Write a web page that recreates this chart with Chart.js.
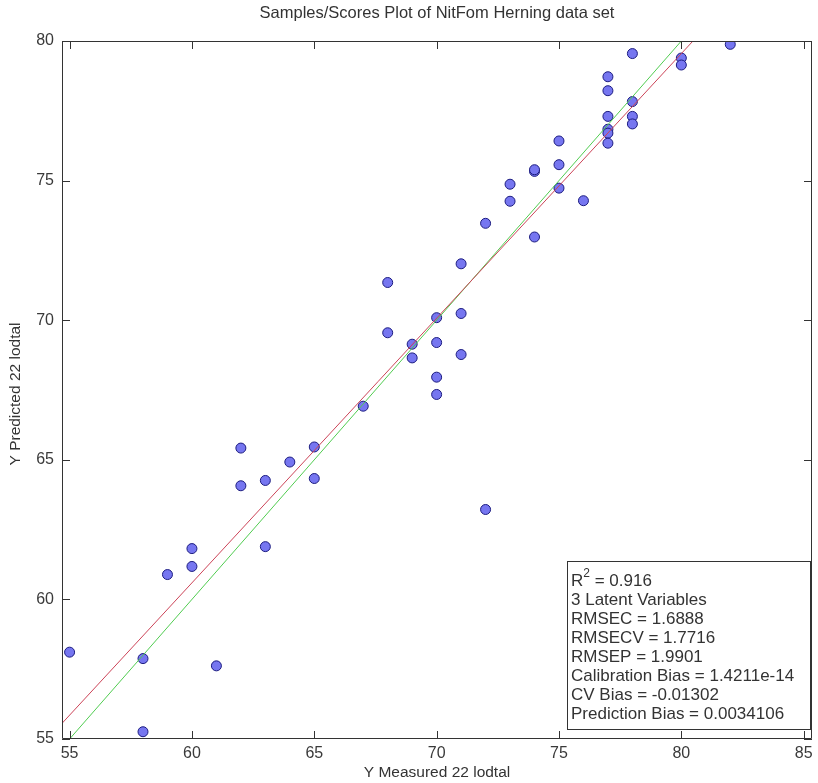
<!DOCTYPE html>
<html>
<head>
<meta charset="utf-8">
<script src="https://cdn.jsdelivr.net/npm/chart.js@4.4.1/dist/chart.umd.min.js"></script>
<style>
html,body{margin:0;padding:0;background:#fff;}
#wrap{width:818px;height:783px;position:relative;}
</style>
</head>
<body>
<div id="wrap"><canvas id="c" width="818" height="783"></canvas></div>
<script>
// ---- data ----
const measuredX = [55,58,58,59,60,60,61,62,62,63,63,64,65,65,67,68,68,69,69,70,70,70,70,71,71,71,72,72,73,73,74,74,74,75,75,75,76,77,77,77,77,77,77,78,78,78,78,80,80,82];
const predictedY = [58.11,57.88,55.26,60.89,61.18,61.82,57.62,65.42,64.07,64.26,61.89,64.92,65.46,64.33,66.92,71.35,69.55,69.14,68.65,70.09,69.20,67.96,67.34,72.02,70.24,68.77,73.47,63.22,74.87,74.26,75.33,75.39,72.98,76.42,75.57,74.73,74.28,78.72,78.22,77.30,76.84,76.70,76.34,79.55,77.83,77.30,77.03,79.39,79.14,79.88];
const fitLineX = [54.69, 85.34];
const fitLineY = [55.56, 84.61];
const targetLineX = [54.69, 85.34];
const targetLineY = [54.69, 85.34];
const xTicks = [55,60,65,70,75,80,85];
const yTicks = [55,60,65,70,75,80];
const titleText = 'Samples/Scores Plot of NitFom Herning data set';
const xLabel = 'Y Measured 22 lodtal';
const yLabel = 'Y Predicted 22 lodtal';
const statsLines = ['R2 = 0.916','3 Latent Variables','RMSEC = 1.6888','RMSECV = 1.7716','RMSEP = 1.9901','Calibration Bias = 1.4211e-14','CV Bias = -0.01302','Prediction Bias = 0.0034106'];

const FONT = '"Liberation Sans", Arial, sans-serif';
const TXT = '#333333';

const points = measuredX.map((x,i)=>({x:x,y:predictedY[i]}));
const fitPts = fitLineX.map((x,i)=>({x:x,y:fitLineY[i]}));
const tgtPts = targetLineX.map((x,i)=>({x:x,y:targetLineY[i]}));

const framePlugin = {
  id:'frame',
  afterDatasetsDraw(chart){
    const ctx = chart.ctx, a = chart.chartArea;
    const xs = chart.scales.x, ys = chart.scales.y;
    ctx.save();
    ctx.strokeStyle = '#333';
    ctx.lineWidth = 1;
    ctx.beginPath();
    ctx.rect(Math.round(a.left)+0.5, Math.round(a.top)+0.5, Math.round(a.right-a.left)-1, Math.round(a.bottom-a.top)-1);
    ctx.stroke();
    const TL = 8;
    ctx.beginPath();
    xTicks.forEach(v=>{
      const p = Math.round(xs.getPixelForValue(v))+0.5;
      ctx.moveTo(p,a.bottom); ctx.lineTo(p,a.bottom-TL);
      ctx.moveTo(p,a.top); ctx.lineTo(p,a.top+TL);
    });
    yTicks.forEach(v=>{
      const p = Math.round(ys.getPixelForValue(v))+0.5;
      ctx.moveTo(a.left,p); ctx.lineTo(a.left+TL,p);
      ctx.moveTo(a.right,p); ctx.lineTo(a.right-TL,p);
    });
    ctx.stroke();

    // stats box
    const bx=567.5, by=561.5, bw=243, bh=168;
    ctx.fillStyle='#fff';
    ctx.fillRect(bx,by,bw,bh);
    ctx.strokeStyle='#333';
    ctx.strokeRect(bx,by,bw,bh);
    ctx.fillStyle=TXT;
    ctx.textBaseline='middle';
    ctx.textAlign='left';
    const fs = 17;
    statsLines.forEach((t,i)=>{
      const y = 581 + i*19.07;
      const tx = 571;
      if(i===0){
        ctx.font = fs+'px '+FONT;
        ctx.fillText('R',tx,y);
        const w = ctx.measureText('R').width;
        ctx.font = '12px '+FONT;
        ctx.fillText('2',tx+w,y-7);
        const w2 = ctx.measureText('2').width;
        ctx.font = fs+'px '+FONT;
        ctx.fillText(t.slice(2),tx+w+w2,y);
      } else {
        ctx.font = fs+'px '+FONT;
        ctx.fillText(t,tx,y);
      }
    });

    // titles
    ctx.font = '16.5px '+FONT;
    ctx.textAlign='center';
    ctx.fillText(titleText,(a.left+a.right)/2,13);
    ctx.font = '15.5px '+FONT;
    ctx.fillText(xLabel,(a.left+a.right)/2,773);
    ctx.translate(16,(a.top+a.bottom)/2+4);
    ctx.rotate(-Math.PI/2);
    ctx.fillText(yLabel,0,0);
    ctx.restore();
  }
};

new Chart(document.getElementById('c'),{
  type:'scatter',
  data:{datasets:[
    {label:'samples',data:points,order:2,pointRadius:5,pointHoverRadius:5,pointBackgroundColor:'#7676f0',pointBorderColor:'#1c1c80',pointBorderWidth:1,showLine:false},
    {label:'fit',data:fitPts,order:1,type:'line',showLine:true,borderColor:'#cc4458',borderWidth:1,pointRadius:0,fill:false},
    {label:'target',data:tgtPts,order:1,type:'line',showLine:true,borderColor:'#50cc50',borderWidth:1,pointRadius:0,fill:false}
  ]},
  options:{
    responsive:false,
    animation:false,
    events:[],
    layout:{padding:{left:0,right:2,top:41,bottom:0}},
    plugins:{legend:{display:false},tooltip:{enabled:false},title:{display:false}},
    scales:{
      x:{type:'linear',min:54.69,max:85.34,
        afterBuildTicks:s=>{s.ticks=xTicks.map(v=>({value:v}));},
        afterFit:s=>{s.height=44;},
        grid:{display:false,drawTicks:false},border:{display:false},
        ticks:{padding:5,color:'#3a3a3a',font:{family:FONT,size:16},maxRotation:0,autoSkip:false}},
      y:{type:'linear',min:55,max:80,
        afterBuildTicks:s=>{s.ticks=yTicks.map(v=>({value:v}));},
        afterFit:s=>{s.width=62;},
        grid:{display:false,drawTicks:false},border:{display:false},
        ticks:{padding:8,color:'#3a3a3a',font:{family:FONT,size:16},autoSkip:false}}
    }
  },
  plugins:[framePlugin]
});
</script>
</body>
</html>
